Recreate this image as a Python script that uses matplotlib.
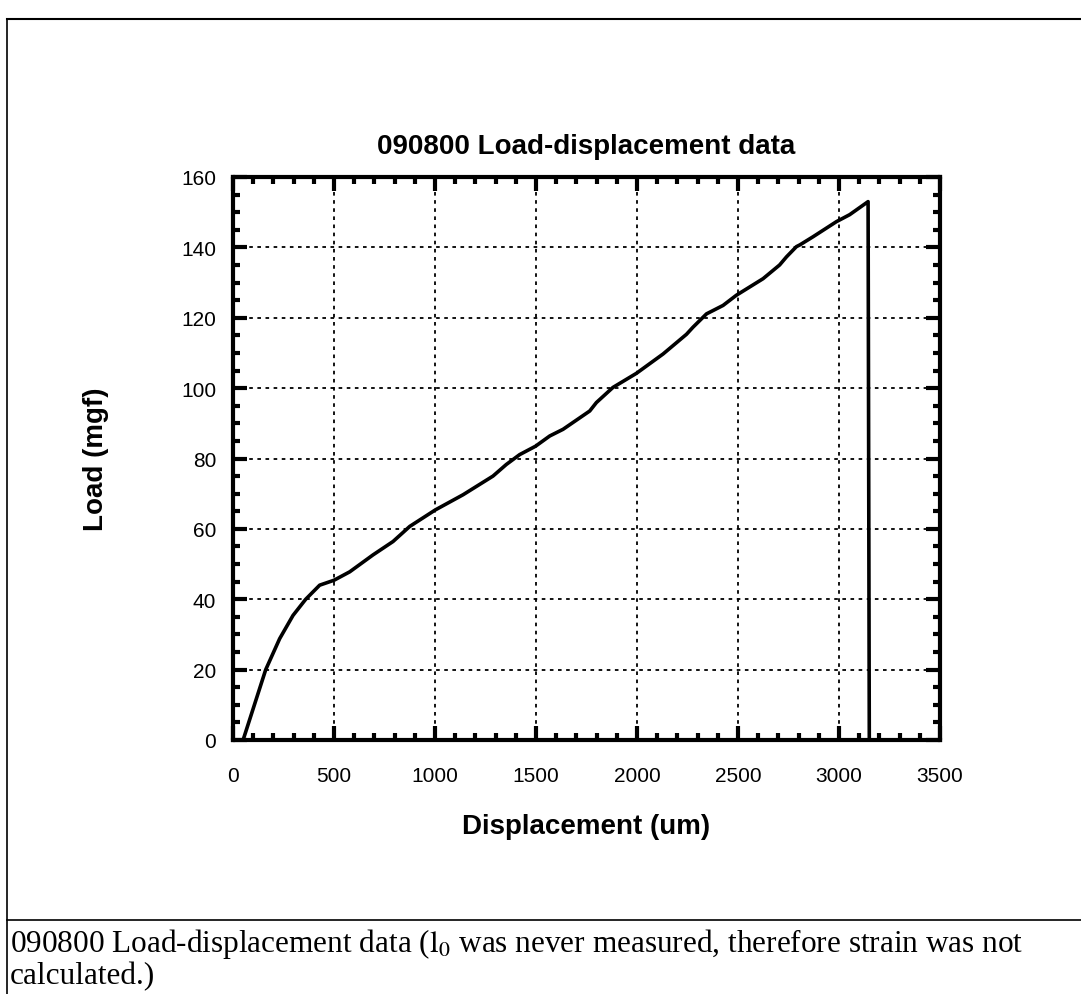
import matplotlib
matplotlib.use('Agg')
import matplotlib.pyplot as plt
from matplotlib.lines import Line2D
from matplotlib.ticker import MultipleLocator

# Load-displacement readings
displacement = [50, 162, 231, 297, 360, 429, 500, 578, 693, 792, 875, 1002,
                1139, 1287, 1353, 1419, 1498, 1568, 1634, 1766, 1799, 1881,
                1997, 2129, 2245, 2277, 2344, 2426, 2492, 2624, 2706, 2740,
                2789, 2806, 2871, 2987, 3053, 3144, 3150]
load = [0, 20, 28.8, 35.4, 40, 44, 45.4, 47.8, 52.6, 56.4, 60.7, 65.4,
        69.7, 75, 78.3, 81.1, 83.5, 86.4, 88.3, 93.5, 95.9, 100.2,
        104.2, 109.7, 115.3, 117.3, 121.1, 123.5, 126.4, 131.1, 135, 137.3,
        140.2, 140.7, 143, 147.3, 149.3, 153, 0]

title = '090800 Load-displacement data'
caption1 = r'090800 Load-displacement data ($\mathrm{l}_0$ was never measured, therefore strain was not'
caption2 = 'calculated.)'

plt.rcParams['font.family'] = ['Liberation Sans', 'DejaVu Sans']
plt.rcParams['mathtext.fontset'] = 'stix'

W, H = 1081, 995
fig = plt.figure(figsize=(W / 100, H / 100), dpi=100)
ax = fig.add_axes([233 / W, 1 - 741 / H, (940 - 233) / W, (741 - 178) / H])

ax.plot(displacement, load, color='black', lw=2.6, solid_joinstyle='round')

ax.set_xlim(0, 3500)
ax.set_ylim(0, 160)
ax.xaxis.set_major_locator(MultipleLocator(500))
ax.xaxis.set_minor_locator(MultipleLocator(100))
ax.yaxis.set_major_locator(MultipleLocator(20))
ax.yaxis.set_minor_locator(MultipleLocator(5))

ax.grid(True, which='major', color='black', linestyle=(0, (2, 2.5)), lw=1.3)
for s in ax.spines.values():
    s.set_linewidth(3)
ax.tick_params(which='both', direction='in', top=True, right=True, labelsize=15)
ax.tick_params(axis='x', pad=19)
ax.tick_params(axis='y', pad=12)
ax.tick_params(which='major', length=10, width=3)
ax.tick_params(which='minor', length=5, width=3)

ax.set_title(title, fontsize=20, fontweight='bold', pad=17)
ax.set_xlabel('Displacement (um)', fontsize=20, fontweight='bold', labelpad=20)
ax.set_ylabel('Load (mgf)', fontsize=20, fontweight='bold', labelpad=52)

# page frame and caption
fig.add_artist(Line2D([7 / W, 7 / W], [0, 1 - 20 / H], color='black', lw=1.2))
fig.add_artist(Line2D([7 / W, 1], [1 - 20 / H, 1 - 20 / H], color='black', lw=1.5))
fig.add_artist(Line2D([7 / W, 1], [1 - 921 / H, 1 - 921 / H], color='black', lw=1.2))
fig.text(10 / W, 1 - 952 / H, caption1, family='Liberation Serif', fontsize=22.5, va='baseline')
fig.text(10 / W, 1 - 984 / H, caption2, family='Liberation Serif', fontsize=22.5, va='baseline')

fig.savefig('out.png', dpi=100)
